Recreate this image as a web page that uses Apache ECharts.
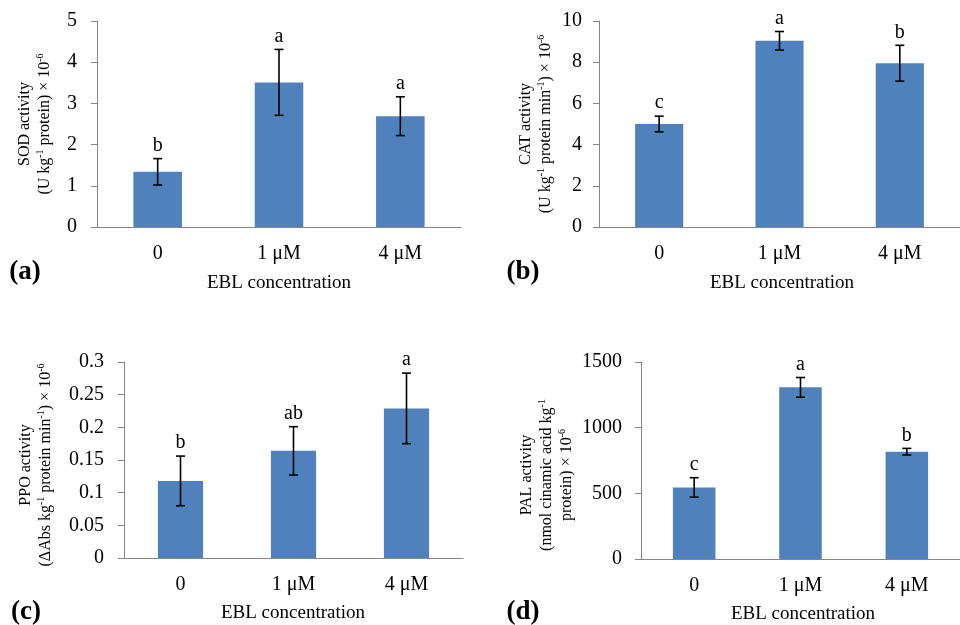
<!DOCTYPE html>
<html>
<head>
<meta charset="utf-8">
<script src="https://cdn.jsdelivr.net/npm/echarts@6/dist/echarts.min.js"></script>
<style>
html,body{margin:0;padding:0;background:#fff;}
#chart{width:960px;height:625px;}
</style>
</head>
<body>
<div id="chart"></div>
<script>
const categories = ['0', '1 μM', '4 μM'];

const sodMean = [1.34, 3.51, 2.69];
const sodErr = [0.32, 0.80, 0.47];
const sodLetters = ['b', 'a', 'a'];

const catMean = [5.0, 9.04, 7.95];
const catErr = [0.38, 0.45, 0.87];
const catLetters = ['c', 'a', 'b'];

const ppoMean = [0.118, 0.164, 0.229];
const ppoErr = [0.038, 0.037, 0.054];
const ppoLetters = ['b', 'ab', 'a'];

const palMean = [545, 1307, 817];
const palErr = [74, 75, 25];
const palLetters = ['c', 'a', 'b'];

const sodAxis = [0, 5, 1];
const catAxis = [0, 10, 2];
const ppoAxis = [0, 0.3, 0.05];
const palAxis = [0, 1500, 500];

const FONT = '"Liberation Serif", "Times New Roman", serif';
const AXIS_COLOR = '#868686';
const BAR_COLOR = '#4F81BD';

const panels = [
  {mean: sodMean, err: sodErr, letters: sodLetters, axis: sodAxis,
   grid: {left: 97, top: 21, width: 364, height: 206}, labelMargin: 20},
  {mean: catMean, err: catErr, letters: catLetters, axis: catAxis,
   grid: {left: 599, top: 21, width: 365, height: 206}, labelMargin: 17},
  {mean: ppoMean, err: ppoErr, letters: ppoLetters, axis: ppoAxis,
   grid: {left: 124, top: 362, width: 339, height: 196}, labelMargin: 20},
  {mean: palMean, err: palErr, letters: palLetters, axis: palAxis,
   grid: {left: 641, top: 362, width: 325, height: 197}, labelMargin: 19}
];

function errRender(letters) {
  return function (params, api) {
    const i = api.value(0);
    const pHi = api.coord([i, api.value(1)]);
    const pLo = api.coord([i, api.value(2)]);
    const cap = 4.5;
    const st = {stroke: '#000', lineWidth: 1.6};
    return {
      type: 'group',
      children: [
        {type: 'line', shape: {x1: pHi[0], y1: pHi[1], x2: pLo[0], y2: pLo[1]}, style: st},
        {type: 'line', shape: {x1: pHi[0] - cap, y1: pHi[1], x2: pHi[0] + cap, y2: pHi[1]}, style: st},
        {type: 'line', shape: {x1: pLo[0] - cap, y1: pLo[1], x2: pLo[0] + cap, y2: pLo[1]}, style: st},
        {type: 'text', x: pHi[0], y: pHi[1] - 3,
         style: {text: letters[i], fill: '#000', font: '20px ' + FONT, align: 'center', verticalAlign: 'bottom'}}
      ]
    };
  };
}

const grids = [], xAxes = [], yAxes = [], series = [];
panels.forEach(function (p, k) {
  grids.push(p.grid);
  xAxes.push({
    type: 'category', gridIndex: k, data: categories,
    axisLine: {lineStyle: {color: AXIS_COLOR, width: 1}},
    axisTick: {length: 6, lineStyle: {color: AXIS_COLOR}},
    axisLabel: {color: '#000', fontFamily: FONT, fontSize: 20, margin: 17}
  });
  yAxes.push({
    type: 'value', gridIndex: k, min: p.axis[0], max: p.axis[1], interval: p.axis[2],
    axisLine: {show: true, lineStyle: {color: AXIS_COLOR, width: 1}},
    axisTick: {show: true, length: 6, lineStyle: {color: AXIS_COLOR}},
    splitLine: {show: false},
    axisLabel: {color: '#000', fontFamily: FONT, fontSize: 20, margin: p.labelMargin,
      formatter: function (v) { return String(+v.toFixed(4)); }}
  });
  series.push({
    type: 'bar', xAxisIndex: k, yAxisIndex: k, data: p.mean, barWidth: '40%',
    itemStyle: {color: BAR_COLOR}, silent: true
  });
  series.push({
    type: 'custom', xAxisIndex: k, yAxisIndex: k, renderItem: errRender(p.letters),
    data: p.mean.map(function (m, i) { return [i, m + p.err[i], m - p.err[i]]; }),
    z: 5, silent: true
  });
});

const richName = {
  n: {fontFamily: FONT, fontSize: 16, fill: '#000', lineHeight: 20},
  s: {fontFamily: FONT, fontSize: 10, fill: '#000', lineHeight: 20, verticalAlign: 'top', padding: [0, 0, 8, 0]}
};

function vText(x, y, text) {
  return {type: 'text', x: x, y: y, rotation: Math.PI / 2,
    style: {text: text, rich: richName, align: 'center', verticalAlign: 'middle', fill: '#000'}};
}
function hText(x, y, text, size, bold) {
  return {type: 'text', x: x, y: y,
    style: {text: text, fill: '#000', font: (bold ? 'bold ' : '') + size + 'px ' + FONT, align: 'center', verticalAlign: 'middle'}};
}

const graphics = [
  vText(35, 124, '{n|SOD activity}\n{n|(U kg}{s|-1}{n| protein) × 10}{s|-6}'),
  vText(536, 124, '{n|CAT activity}\n{n|(U kg}{s|-1}{n| protein min}{s|-1}{n|) × 10}{s|-6}'),
  vText(36, 465, '{n|PPO activity}\n{n|(ΔAbs kg}{s|-1}{n| protein min}{s|-1}{n|) × 10}{s|-6}'),
  vText(547, 475, '{n|PAL activity}\n{n|(nmol cinamic acid kg}{s|-1}\n{n|protein) × 10}{s|-6}'),
  hText(279, 283, 'EBL concentration', 19, false),
  hText(782, 283, 'EBL concentration', 19, false),
  hText(293, 613, 'EBL concentration', 19, false),
  hText(803, 614, 'EBL concentration', 19, false),
  hText(25, 272, '(a)', 27, true),
  hText(523, 272, '(b)', 27, true),
  hText(26, 612, '(c)', 27, true),
  hText(523, 612, '(d)', 27, true)
];

const chart = echarts.init(document.getElementById('chart'), null, {renderer: 'canvas'});
chart.setOption({
  backgroundColor: '#fff',
  animation: false,
  grid: grids,
  xAxis: xAxes,
  yAxis: yAxes,
  series: series,
  graphic: graphics
});
</script>
</body>
</html>
